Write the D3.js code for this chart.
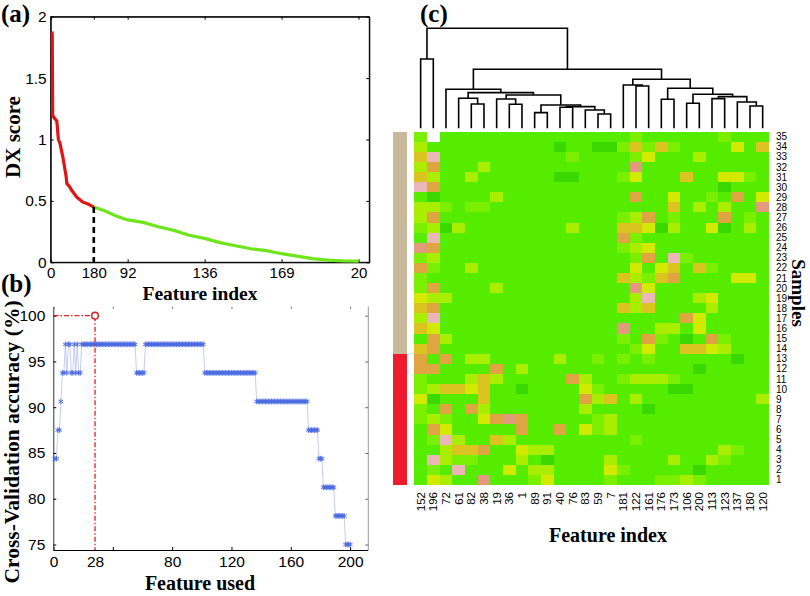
<!DOCTYPE html>
<html><head><meta charset="utf-8">
<script src="https://cdn.jsdelivr.net/npm/d3@7"></script>
<style>
html,body{margin:0;padding:0;background:#fff;}
svg{display:block;}
text{font-family:"Liberation Sans",Arial,sans-serif;}
.serif{font-family:"Liberation Serif","Times New Roman",serif;font-weight:bold;}
</style></head><body>
<svg id="chart" width="810" height="596"></svg>
<script>
// ---------- Panel (a): DX score curve ----------
const dxRank  = [0.8, 1, 1.3, 2, 4, 5, 6, 8, 10, 10.5, 12, 14, 17, 21, 25, 28, 35, 42, 50, 60, 70, 80, 90, 100, 110, 120, 130, 140, 150, 160, 170, 180, 190, 200];
const dxScore = [1.88, 1.86, 1.2, 1.18, 1.15, 1.0, 0.97, 0.85, 0.7, 0.64, 0.62, 0.58, 0.53, 0.49, 0.47, 0.45, 0.42, 0.38, 0.345, 0.325, 0.29, 0.26, 0.22, 0.195, 0.16, 0.135, 0.11, 0.095, 0.07, 0.05, 0.03, 0.018, 0.012, 0.01];
const selectedCount = 28;
const dxTickPos = [0, 28, 50, 100, 150, 200];
const dxTickLabels = ["0", "180", "92", "136", "169", "20"];
const dxYTicks = [0, 0.5, 1, 1.5, 2];

// ---------- Panel (b): cross-validation accuracy (runs of equal value) ----------
const accStart = [1, 3, 5, 6, 8, 9, 10, 12, 14, 15, 16, 17, 19, 56, 62, 102, 137, 172, 179, 182, 190, 197];
const accEnd   = [2, 4, 5, 7, 8, 9, 11, 13, 14, 15, 16, 18, 55, 61, 101, 136, 171, 178, 181, 189, 196, 200];
const accValue = [84.375, 87.5, 90.625, 93.75, 96.875, 93.75, 96.875, 93.75, 96.875, 93.75, 96.875, 93.75, 96.875, 93.75, 96.875, 93.75, 90.625, 87.5, 84.375, 81.25, 78.125, 75];
const bestCount = 28, bestAcc = 100;
const accXTickMarks = [0, 40, 80, 120, 160, 200];
const accXTickLabels = [0, 28, 80, 120, 160, 200];
const accYTicks = [75, 80, 85, 90, 95, 100];

// ---------- Panel (c): heatmap ----------
const featureLabels = ["152","196","72","61","82","38","19","36","1","89","91","40","76","83","59","7","181","122","161","176","173","106","200","113","123","137","180","120"];
const sampleLabels = [35,34,33,32,31,30,29,28,27,26,25,24,23,22,21,20,19,18,17,16,15,14,13,12,11,10,9,8,7,6,5,4,3,2,1];
const sampleClass = ["n","n","n","n","n","n","n","n","n","n","n","n","n","n","n","n","n","n","n","n","n","n",
                     "p","p","p","p","p","p","p","p","p","p","p","p","p"];
// level codes: 0 dark green ... 8 pink; null = missing (white)
const heat = [
 [2,null,1,1,1,1,1,1,1,1,1,1,1,1,1,1,1,2,1,1,1,1,1,1,2,1,1,1],
 [3,1,1,1,1,1,1,1,1,1,1,0,1,1,0,0,2,5,2,5,2,1,1,1,1,4,1,5],
 [5,8,1,1,1,1,1,1,1,1,1,1,2,1,1,1,1,2,4,1,1,1,3,1,1,1,1,1],
 [3,6,1,1,1,3,1,1,1,1,1,1,1,1,1,1,1,7,1,1,1,1,1,1,1,1,1,1],
 [5,3,1,1,3,1,1,1,1,1,1,0,0,1,1,1,2,4,1,1,1,5,1,1,4,4,2,1],
 [8,6,1,1,1,1,1,1,1,1,1,1,1,1,1,1,1,1,1,1,1,1,1,1,0,1,1,1],
 [1,0,1,1,1,1,3,1,1,1,1,1,1,1,1,1,1,6,1,1,4,1,1,2,1,6,1,4],
 [3,3,2,1,2,2,1,1,1,1,1,1,1,1,1,1,1,1,1,1,5,1,3,1,3,1,1,7],
 [3,6,1,1,1,1,1,1,1,1,1,1,1,1,1,1,2,3,6,1,2,1,1,1,6,1,2,1],
 [2,3,0,3,1,1,1,1,1,1,1,1,3,1,1,1,5,5,4,0,3,1,1,4,0,1,3,1],
 [1,8,1,1,1,1,1,1,1,1,1,1,1,1,1,1,6,2,1,1,1,1,1,1,1,1,1,1],
 [7,6,1,1,1,1,1,1,1,1,1,1,1,1,1,1,2,3,4,1,1,1,1,1,1,1,1,1],
 [2,3,1,1,1,1,1,1,1,1,1,1,1,1,1,1,1,2,6,1,8,2,1,1,1,1,1,1],
 [6,2,1,1,3,1,1,1,1,1,1,1,1,1,1,1,1,4,1,4,5,1,5,2,1,1,1,1],
 [2,1,1,1,1,1,1,1,1,1,1,1,1,1,1,1,5,3,2,5,6,1,1,1,1,4,4,1],
 [2,6,1,1,1,1,3,1,1,1,1,1,1,1,1,1,1,7,4,1,1,1,1,1,1,1,1,1],
 [4,3,3,1,1,1,1,1,1,1,1,1,1,1,1,1,1,3,8,1,1,1,3,4,1,1,1,1],
 [5,6,1,1,1,1,1,1,1,1,1,1,1,1,1,1,5,3,5,1,1,1,1,3,1,1,1,1],
 [3,8,1,1,1,1,1,1,1,1,1,1,1,1,1,1,1,1,1,1,1,6,4,1,1,1,1,1],
 [5,4,1,1,1,1,1,1,1,1,1,1,1,1,1,1,7,1,1,3,3,1,4,1,1,1,1,1],
 [1,6,3,1,1,1,1,1,1,1,1,1,1,1,1,1,2,1,6,2,1,0,1,6,2,1,1,1],
 [5,6,1,1,1,1,1,1,1,1,1,1,1,1,1,1,1,2,4,1,1,5,5,4,3,1,1,1],
 [6,1,6,1,3,3,1,1,1,1,1,3,1,1,2,1,2,1,2,1,1,1,1,1,1,0,1,1],
 [6,6,1,1,1,1,6,1,3,1,1,1,1,1,1,1,1,1,1,1,1,1,0,1,1,1,1,1],
 [2,1,1,1,3,5,3,1,1,1,1,1,6,3,1,1,2,3,3,3,2,1,1,1,1,1,1,1],
 [2,3,5,5,4,5,1,1,0,1,1,1,1,4,2,1,1,1,1,1,0,0,1,1,1,1,1,1],
 [4,0,1,1,1,5,1,1,1,1,1,1,1,6,3,5,1,3,1,1,1,1,1,1,1,1,1,3],
 [2,1,6,1,6,3,1,1,1,1,1,1,1,3,1,1,1,1,0,1,1,1,1,1,1,1,1,1],
 [2,3,2,1,1,4,6,7,6,1,1,1,1,1,2,3,1,1,1,1,1,1,1,1,1,1,1,1],
 [1,6,4,1,1,1,1,1,6,1,1,6,1,4,2,3,1,1,1,1,1,1,1,1,1,1,1,1],
 [1,2,8,3,1,1,5,3,1,1,1,1,1,1,1,1,1,2,1,1,1,1,1,1,1,1,1,1],
 [1,1,3,5,5,6,1,1,4,3,3,1,1,1,1,1,1,1,1,1,1,1,1,1,3,2,1,1],
 [1,8,3,2,2,1,1,1,3,1,0,1,1,1,1,3,1,1,1,1,3,1,1,3,2,1,1,1],
 [1,2,1,8,1,1,1,4,1,3,3,1,1,1,1,4,2,1,1,1,1,1,0,1,1,1,1,1],
 [1,4,3,1,1,7,1,1,1,2,4,1,1,1,1,2,1,1,1,2,2,3,2,1,1,1,1,1]
];
const levelColors = ["#3bd800","#55ec00","#7aef00","#a9ee00","#d2ea00","#dcc420","#dea540","#e29a7a","#ebb6b6"];
// dendrogram merges: [childA, childB, height]; ids 0..27 leaves, 28+ clusters in order
const dendroMerges = [
 [14,15,0.143],[9,10,0.157],[13,28,0.183],[11,12,0.21],[31,30,0.217],[26,27,0.223],
 [29,32,0.233],[7,8,0.24],[4,5,0.243],[21,22,0.25],[25,33,0.263],[19,20,0.29],
 [6,35,0.293],[23,24,0.297],[3,36,0.30],[41,38,0.317],[40,34,0.333],[37,43,0.34],
 [42,44,0.357],[2,46,0.39],[39,45,0.40],[17,18,0.423],[16,49,0.433],[50,48,0.49],
 [47,51,0.59],[0,1,0.693],[53,52,1.0]
];

const svg = d3.select("#chart");

function styleAxis(g, size){
  g.selectAll("text").attr("font-size", size).attr("fill", "#000");
  g.selectAll("line").attr("stroke", "#000");
  g.select(".domain").attr("stroke", "#000");
}

// ===== Panel (a) =====
const A = {l:50.7, r:369.3, t:16.7, b:262.3};
const xA = d3.scaleLinear([0, 207], [A.l, A.r]);
const yA = d3.scaleLinear([0, 2], [A.b, A.t]);
const gA = svg.append("g");
gA.append("rect").attr("x", A.l).attr("y", A.t).attr("width", A.r - A.l).attr("height", A.b - A.t)
  .attr("fill", "none").attr("stroke", "#000").attr("stroke-width", 1);
gA.append("g").attr("transform", `translate(0,${A.b})`)
  .call(d3.axisBottom(xA).tickValues(dxTickPos).tickFormat((d,i)=>dxTickLabels[i]).tickSizeInner(-3).tickSizeOuter(0).tickPadding(5))
  .call(g=>styleAxis(g,15));
gA.append("g").attr("transform", `translate(0,${A.t})`)
  .call(d3.axisTop(xA).tickValues(dxTickPos).tickFormat("").tickSizeInner(-3).tickSizeOuter(0))
  .call(g=>styleAxis(g,15));
gA.append("g").attr("transform", `translate(${A.l},0)`)
  .call(d3.axisLeft(yA).tickValues(dxYTicks).tickFormat(d=>String(d)).tickSizeInner(-3).tickSizeOuter(0).tickPadding(4))
  .call(g=>styleAxis(g,15.5));
gA.append("g").attr("transform", `translate(${A.r},0)`)
  .call(d3.axisRight(yA).tickValues(dxYTicks).tickFormat("").tickSizeInner(-3).tickSizeOuter(0))
  .call(g=>styleAxis(g,15));
const dxPts = dxRank.map((r,i)=>({r, s:dxScore[i]}));
const lineA = d3.line().x(d=>xA(d.r)).y(d=>yA(d.s));
const cutScore = dxScore[dxRank.indexOf(selectedCount)];
gA.append("path").datum(dxPts.filter(d=>d.r >= selectedCount)).attr("d", lineA)
  .attr("fill","none").attr("stroke","#6fe61c").attr("stroke-width",3.2).attr("stroke-linejoin","round");
gA.append("path").datum(dxPts.filter(d=>d.r <= selectedCount)).attr("d", lineA)
  .attr("fill","none").attr("stroke","#e01414").attr("stroke-width",3.2).attr("stroke-linejoin","round");
gA.append("line").attr("x1", xA(selectedCount)).attr("x2", xA(selectedCount))
  .attr("y1", yA(cutScore)).attr("y2", yA(0))
  .attr("stroke","#000").attr("stroke-width",2.6).attr("stroke-dasharray","6,4");
gA.append("text").attr("class","serif").attr("x", 200).attr("y", 300).attr("text-anchor","middle")
  .attr("font-size",19.5).text("Feature index");
gA.append("text").attr("class","serif").attr("transform","translate(20,137) rotate(-90)").attr("text-anchor","middle")
  .attr("font-size",21).text("DX score");
svg.append("text").attr("class","serif").attr("x",1).attr("y",22).attr("font-size",25).text("(a)");

// ===== Panel (b) =====
const B = {l:53.3, r:368.3, t:306.7, b:550};
const xB = d3.scaleLinear([0, 212.4], [53.5, 368.5]);
const yB = d3.scaleLinear([74.4, 100.98], [B.b, B.t]);
const gB = svg.append("g");
gB.append("line").attr("x1",B.r).attr("x2",B.r).attr("y1",B.t).attr("y2",B.b).attr("stroke","#999").attr("stroke-width",1);
gB.append("g").attr("transform", `translate(0,${B.b})`)
  .call(d3.axisBottom(xB).tickValues(accXTickMarks).tickFormat("").tickSizeInner(-3).tickSizeOuter(0))
  .call(g=>styleAxis(g,15));
gB.select("g .domain").attr("d", `M${B.l},0.5H${B.r}`);
gB.append("g").attr("transform", `translate(0,${B.b})`)
  .call(d3.axisBottom(xB).tickValues(accXTickLabels).tickFormat(d=>String(d)).tickSize(0).tickPadding(6))
  .call(g=>{styleAxis(g,15.5); g.select(".domain").remove();});
gB.append("g").attr("transform", `translate(0,${B.t})`)
  .call(d3.axisTop(xB).tickValues(accXTickMarks).tickFormat("").tickSizeInner(-2).tickSizeOuter(0))
  .call(g=>{styleAxis(g,15); g.select(".domain").remove(); g.selectAll("line").attr("stroke","#666");});
gB.append("g").attr("transform", `translate(${B.l},0)`)
  .call(d3.axisLeft(yB).tickValues(accYTicks).tickFormat(d=>String(d)).tickSizeInner(-3).tickSizeOuter(0).tickPadding(8))
  .call(g=>{styleAxis(g,15.5); g.select(".domain").attr("stroke","#333");});
gB.append("g").attr("transform", `translate(${B.r},0)`)
  .call(d3.axisRight(yB).tickValues(accYTicks).tickFormat("").tickSizeInner(-3).tickSizeOuter(0))
  .call(g=>{styleAxis(g,15); g.select(".domain").remove(); g.selectAll("line").attr("stroke","#666");});
const accPts = [];
accStart.forEach((s,i)=>{ for(let f=s; f<=accEnd[i]; f++) accPts.push({f, v:accValue[i]}); });
gB.append("path").datum(accPts).attr("d", d3.line().x(d=>xB(d.f)).y(d=>yB(d.v)))
  .attr("fill","none").attr("stroke","#a9b8ee").attr("stroke-width",0.7);
const star = d3.symbol().type(d3.symbolAsterisk).size(22);
gB.append("g").selectAll("path").data(accPts).join("path")
  .attr("transform", d=>`translate(${xB(d.f)},${yB(d.v)})`).attr("d", star())
  .attr("fill","none").attr("stroke","#4a6ae2").attr("stroke-width",0.9);
gB.append("path").attr("d", `M${xB(0)},${yB(bestAcc)}H${xB(bestCount)}V${B.b}`)
  .attr("fill","none").attr("stroke","#dd2020").attr("stroke-width",1.3).attr("stroke-dasharray","5,2,1.5,2");
gB.append("circle").attr("cx", xB(bestCount)).attr("cy", yB(bestAcc)).attr("r",3.3)
  .attr("fill","#fff").attr("stroke","#dd2020").attr("stroke-width",1.5);
gB.append("text").attr("class","serif").attr("x", 200).attr("y", 590).attr("text-anchor","middle")
  .attr("font-size",20).text("Feature used");
gB.append("text").attr("class","serif").attr("transform","translate(19,442) rotate(-90)").attr("text-anchor","middle")
  .attr("font-size",21.5).text("Cross-Validation accuracy (%)");
svg.append("text").attr("class","serif").attr("x",1).attr("y",292).attr("font-size",25).text("(b)");

// ===== Panel (c) =====
const C = {l:414.3, r:769, t:131.7, b:485};
const xC = d3.scaleBand(featureLabels, [C.l, C.r]).padding(0);
const yC = d3.scaleBand(sampleLabels, [C.t, C.b]).padding(0);
const colorC = d3.scaleLinear(d3.range(levelColors.length), levelColors);
const gC = svg.append("g");
const cells = [];
heat.forEach((row,i)=>row.forEach((v,j)=>cells.push({s:sampleLabels[i], f:featureLabels[j], v})));
gC.append("g").attr("shape-rendering","crispEdges").selectAll("rect").data(cells).join("rect")
  .attr("x", d=>xC(d.f)).attr("y", d=>yC(d.s))
  .attr("width", xC.bandwidth()+0.4).attr("height", yC.bandwidth()+0.4)
  .attr("fill", d=>d.v === null ? "#ffffff" : colorC(d.v));
gC.append("g").attr("shape-rendering","crispEdges").selectAll("rect").data(sampleLabels).join("rect")
  .attr("x", 393.3).attr("width", 14).attr("y", d=>yC(d)).attr("height", yC.bandwidth()+0.4)
  .attr("fill", (d,i)=>sampleClass[i]==="n" ? "#c9b99b" : "#ee1b2e");
// dendrogram
const yD = d3.scaleLinear([0, 1], [128.3, 28.3]);
const nodes = featureLabels.map(f=>({x: xC(f) + xC.bandwidth()/2, h: 0}));
const dPaths = [];
dendroMerges.forEach(([a,b,h])=>{
  const na = nodes[a], nb = nodes[b];
  dPaths.push(`M${na.x},${yD(na.h)}V${yD(h)}H${nb.x}V${yD(nb.h)}`);
  nodes.push({x:(na.x+nb.x)/2, h});
});
gC.append("g").selectAll("path").data(dPaths).join("path").attr("d", d=>d)
  .attr("fill","none").attr("stroke","#000").attr("stroke-width",1.6);
// labels
gC.append("g").selectAll("text").data(featureLabels).join("text")
  .attr("transform", d=>`translate(${xC(d)+xC.bandwidth()/2},492) rotate(-90)`)
  .attr("text-anchor","end").attr("dy","0.35em").attr("font-size",11.5).text(d=>d);
gC.append("g").selectAll("text").data(sampleLabels).join("text")
  .attr("x", 776).attr("y", d=>yC(d)+yC.bandwidth()/2).attr("dy","0.35em")
  .attr("font-size",10).text(d=>d);
gC.append("text").attr("class","serif").attr("x",608).attr("y",542).attr("text-anchor","middle")
  .attr("font-size",20).text("Feature index");
gC.append("text").attr("class","serif").attr("transform","translate(792,293) rotate(90)").attr("text-anchor","middle")
  .attr("font-size",19).text("Samples");
svg.append("text").attr("class","serif").attr("x",420).attr("y",22).attr("font-size",25).text("(c)");
</script></body></html>
